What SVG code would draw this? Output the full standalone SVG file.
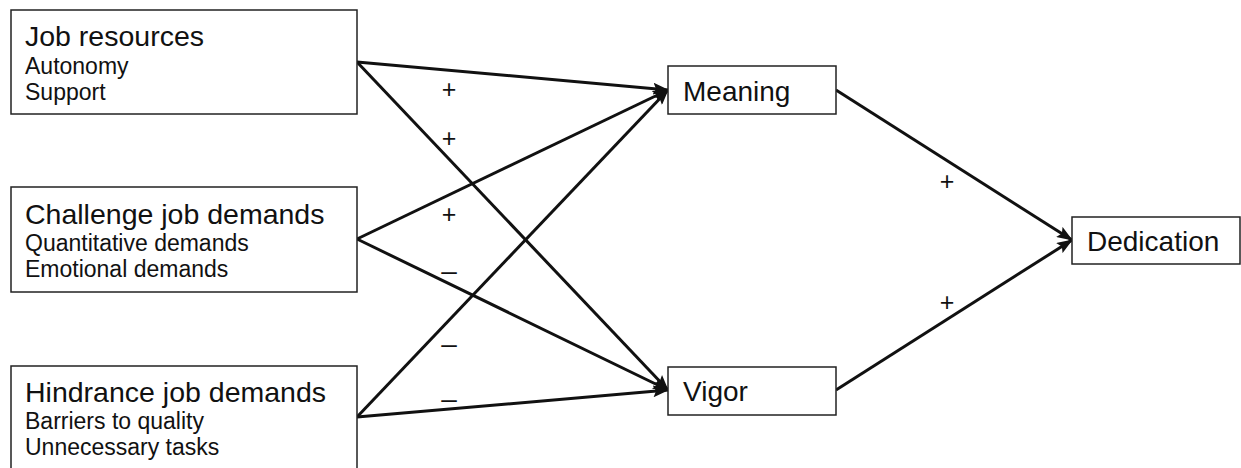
<svg xmlns="http://www.w3.org/2000/svg" width="1241" height="468" viewBox="0 0 1241 468">
<style>
.box{fill:#fff;stroke:#222;stroke-width:1.5}
.t{font-family:"Liberation Sans",Arial,sans-serif;fill:#111;font-size:28.5px}
.n{font-family:"Liberation Sans",Arial,sans-serif;fill:#111;font-size:28px}
.s{font-family:"Liberation Sans",Arial,sans-serif;fill:#111;font-size:23px}
.lbl{font-family:"Liberation Sans",Arial,sans-serif;fill:#111;font-size:25px;text-anchor:middle}
.dash{font-family:"Liberation Sans",Arial,sans-serif;fill:#111;font-size:28px;text-anchor:middle}
.c{stroke:#111;stroke-width:3;fill:none;marker-end:url(#ah)}
</style>
<defs>
<marker id="ah" markerUnits="userSpaceOnUse" markerWidth="16" markerHeight="12" viewBox="0 0 16 12" refX="15" refY="6" orient="auto">
<path d="M0,0 L16,6 L0,12 L3,6 z" fill="#111"/>
</marker>
</defs>
<rect width="1241" height="468" fill="#fff"/>
<g id="connectors">
<line class="c" x1="357" y1="62" x2="668" y2="90"/>
<line class="c" x1="357" y1="62" x2="668" y2="390"/>
<line class="c" x1="357" y1="239" x2="668" y2="90"/>
<line class="c" x1="357" y1="239" x2="668" y2="390"/>
<line class="c" x1="357" y1="417" x2="668" y2="90"/>
<line class="c" x1="357" y1="417" x2="668" y2="390"/>
<line class="c" x1="836" y1="90" x2="1072" y2="240"/>
<line class="c" x1="836" y1="390" x2="1072" y2="240"/>
</g>
<g id="labels">
<text class="lbl" x="449" y="98">+</text>
<text class="lbl" x="449" y="147">+</text>
<text class="lbl" x="449" y="223">+</text>
<text class="dash" x="449" y="280">–</text>
<text class="dash" x="449" y="353">–</text>
<text class="dash" x="449" y="408">–</text>
<text class="lbl" x="947" y="190">+</text>
<text class="lbl" x="947" y="311">+</text>
</g>
<g id="job-resources">
<rect class="box" x="11" y="10" width="346" height="104"/>
<text class="t" x="25" y="46">Job resources</text>
<text class="s" x="25" y="74">Autonomy</text>
<text class="s" x="25" y="100">Support</text>
</g>
<g id="challenge-job-demands">
<rect class="box" x="11" y="187" width="346" height="105"/>
<text class="t" x="25" y="224">Challenge job demands</text>
<text class="s" x="25" y="251">Quantitative demands</text>
<text class="s" x="25" y="277">Emotional demands</text>
</g>
<g id="hindrance-job-demands">
<rect class="box" x="11" y="366" width="346" height="115"/>
<text class="t" x="25" y="402">Hindrance job demands</text>
<text class="s" x="25" y="429">Barriers to quality</text>
<text class="s" x="25" y="455">Unnecessary tasks</text>
</g>
<g id="meaning">
<rect class="box" x="668" y="66" width="168" height="48"/>
<text class="n" x="683" y="101">Meaning</text>
</g>
<g id="vigor">
<rect class="box" x="668" y="367" width="168" height="48"/>
<text class="n" x="683" y="401">Vigor</text>
</g>
<g id="dedication">
<rect class="box" x="1072" y="217" width="168" height="47"/>
<text class="n" x="1087" y="251">Dedication</text>
</g>
</svg>
